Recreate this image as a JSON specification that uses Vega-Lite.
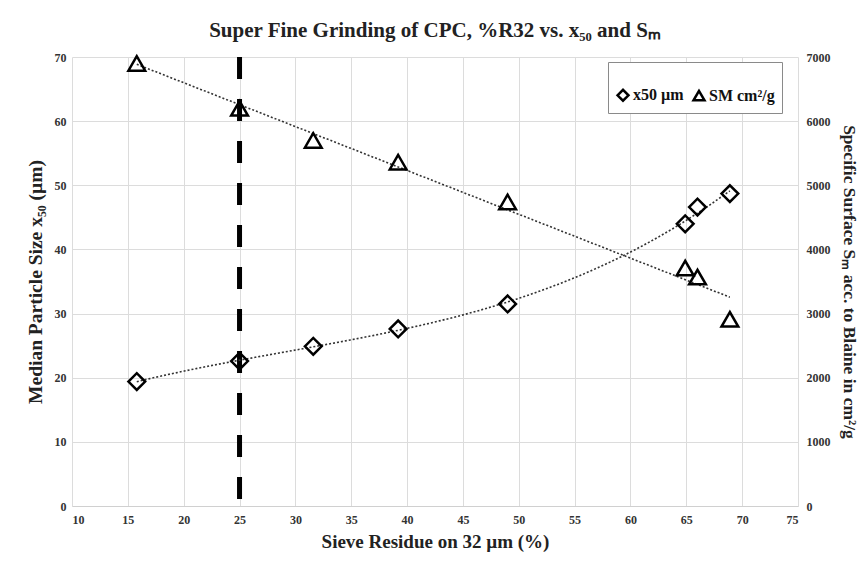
{
  "$schema": "https://vega.github.io/schema/vega-lite/v6.json",
  "autosize": {"type": "none"},
  "width": 726,
  "height": 449,
  "padding": {"left": 72, "top": 57, "right": 66, "bottom": 57},
  "background": "white",
  "title": {
    "text": "Super Fine Grinding of CPC, %R32 vs. x₅₀ and Sₘ",
    "font": "Liberation Serif",
    "fontSize": 21,
    "fontWeight": "bold",
    "color": "#222222",
    "anchor": "middle",
    "offset": 10
  },
  "config": {
    "view": {"stroke": null},
    "axis": {
      "labelFont": "Liberation Serif",
      "labelFontWeight": "bold",
      "labelFontSize": 12,
      "labelColor": "#333333",
      "titleFont": "Liberation Serif",
      "titleFontWeight": "bold",
      "titleFontSize": 18,
      "titleColor": "#222222",
      "ticks": false,
      "gridColor": "#dcdcdc",
      "gridWidth": 1
    },
    "legend": {
      "labelFont": "Liberation Serif",
      "labelFontWeight": "bold",
      "labelFontSize": 16,
      "labelColor": "#111111"
    }
  },
  "datasets": {
    "x50": [
      {"residue": 15.8, "size": 19.4, "series": "x50 µm"},
      {"residue": 25.0, "size": 22.6, "series": "x50 µm"},
      {"residue": 31.6, "size": 24.9, "series": "x50 µm"},
      {"residue": 39.2, "size": 27.6, "series": "x50 µm"},
      {"residue": 49.0, "size": 31.5, "series": "x50 µm"},
      {"residue": 64.9, "size": 44.0, "series": "x50 µm"},
      {"residue": 66.0, "size": 46.6, "series": "x50 µm"},
      {"residue": 68.9, "size": 48.7, "series": "x50 µm"}
    ],
    "sm": [
      {"residue": 15.8, "surface": 6900, "series": "SM cm²/g"},
      {"residue": 25.0, "surface": 6200, "series": "SM cm²/g"},
      {"residue": 31.6, "surface": 5700, "series": "SM cm²/g"},
      {"residue": 39.2, "surface": 5360, "series": "SM cm²/g"},
      {"residue": 49.0, "surface": 4740, "series": "SM cm²/g"},
      {"residue": 64.9, "surface": 3710, "series": "SM cm²/g"},
      {"residue": 66.0, "surface": 3570, "series": "SM cm²/g"},
      {"residue": 68.9, "surface": 2910, "series": "SM cm²/g"}
    ],
    "marker": [{"residue": 25}]
  },
  "layer": [
    {
      "data": {"name": "marker"},
      "mark": {"type": "rule", "color": "black", "strokeWidth": 5, "strokeDash": [22, 20]},
      "encoding": {
        "x": {"field": "residue", "type": "quantitative", "scale": {"domain": [10, 75], "nice": false}}
      }
    },
    {
      "layer": [
        {
          "data": {"name": "x50"},
          "transform": [{"regression": "size", "on": "residue", "method": "poly", "order": 3}],
          "mark": {"type": "line", "color": "#333333", "strokeWidth": 1.6, "strokeDash": [2, 2]},
          "encoding": {
            "x": {"field": "residue", "type": "quantitative", "scale": {"domain": [10, 75], "nice": false},
              "axis": {"values": [10,15,20,25,30,35,40,45,50,55,60,65,70,75], "title": "Sieve Residue on 32 µm  (%)", "titleFontSize": 19, "grid": true, "domainColor": "#d0d0d0", "labelPadding": 8, "titlePadding": 7}},
            "y": {"field": "size", "type": "quantitative", "scale": {"domain": [0, 70], "nice": false},
              "axis": {"values": [0,10,20,30,40,50,60,70], "title": "Median Particle Size x₅₀ (µm)", "titleFontSize": 19.5, "grid": true, "domain": false, "labelPadding": 6, "titlePadding": 9, "orient": "left"}}
          }
        },
        {
          "data": {"name": "x50"},
          "mark": {"type": "point", "filled": false, "color": "black", "strokeWidth": 2.5, "size": 280, "opacity": 1},
          "encoding": {
            "x": {"field": "residue", "type": "quantitative"},
            "y": {"field": "size", "type": "quantitative"},
            "shape": {"field": "series", "type": "nominal",
              "scale": {"domain": ["x50 µm", "SM cm²/g"], "range": ["diamond", "triangle-up"]},
              "legend": {"title": " ", "titleFontSize": 10, "titlePadding": 8, "orient": "none", "legendX": 536, "legendY": 5, "direction": "horizontal", "padding": 7, "strokeColor": "#8a8a8a", "symbolSize": 120, "symbolStrokeWidth": 2.5, "symbolStrokeColor": "black", "symbolFillColor": "transparent", "columnPadding": 4, "labelOffset": 2, "fillColor": "white",
                "encode": {"legend": {"update": {"strokeWidth": {"value": 2}}}}}}
          }
        }
      ]
    },
    {
      "layer": [
        {
          "data": {"name": "sm"},
          "transform": [{"regression": "surface", "on": "residue", "method": "linear"}],
          "mark": {"type": "line", "color": "#333333", "strokeWidth": 1.6, "strokeDash": [2, 2]},
          "encoding": {
            "x": {"field": "residue", "type": "quantitative"},
            "y": {"field": "surface", "type": "quantitative", "scale": {"domain": [0, 7000], "nice": false},
              "axis": {"values": [0,1000,2000,3000,4000,5000,6000,7000], "format": "d", "title": "Specific Surface Sₘ acc. to Blaine in cm²/g", "titleFontSize": 17.5, "grid": false, "domain": false, "orient": "right", "labelPadding": 8, "titlePadding": 9}}
          }
        },
        {
          "data": {"name": "sm"},
          "mark": {"type": "point", "filled": false, "color": "black", "strokeWidth": 2.5, "size": 280, "opacity": 1},
          "encoding": {
            "x": {"field": "residue", "type": "quantitative"},
            "y": {"field": "surface", "type": "quantitative"},
            "shape": {"field": "series", "type": "nominal",
              "scale": {"domain": ["x50 µm", "SM cm²/g"], "range": ["diamond", "triangle-up"]}}
          }
        }
      ]
    }
  ],
  "resolve": {"scale": {"y": "independent"}}
}
